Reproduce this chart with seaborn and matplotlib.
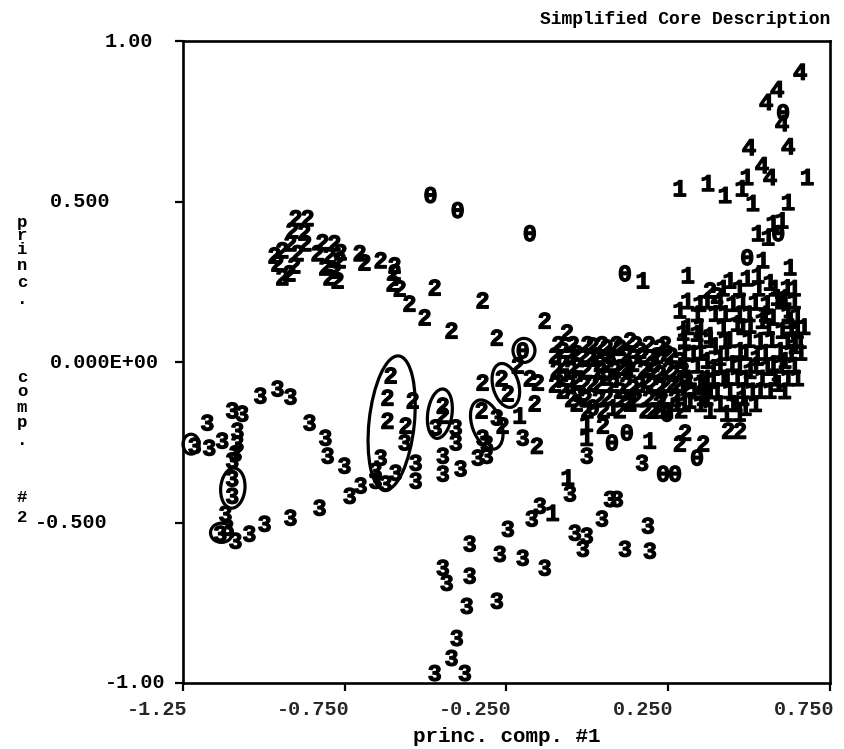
import matplotlib
matplotlib.use("Agg")
import matplotlib.pyplot as plt
import matplotlib.transforms as mtransforms
from matplotlib.patches import Ellipse
import pandas as pd
import seaborn as sns

# ---------------------------------------------------------------------------
# Principal-component scores, one list pair per simplified core class
# ---------------------------------------------------------------------------
class0_x = [0.605, 0.590, 0.494, 0.116, -0.485, -0.401, -0.178, -0.200, 0.076,
            0.122, 0.234, 0.271, 0.339, 0.017, 0.246]
class0_y = [0.778, 0.401, 0.326, 0.276, 0.520, 0.473, 0.401, 0.036, -0.251,
            -0.220, -0.348, -0.348, -0.298, -0.142, -0.161]

class1_x = [0.286, 0.373, 0.426, 0.478, 0.494, 0.512, 0.621, 0.680,
            0.528, 0.559, 0.574, 0.602, 0.543, 0.627, 0.172, 0.311,
            0.441, 0.494, 0.528, 0.565,
            0.348, 0.286, 0.296, 0.339, 0.379, 0.395, 0.426, 0.450, 0.463,
            0.519, 0.556, 0.587, 0.611, 0.618, 0.649, 0.649, 0.503, 0.540,
            0.574, 0.602, 0.618, 0.658, 0.596, 0.574, 0.611, 0.525, 0.556,
            0.534, 0.565, 0.590, 0.481, 0.463, 0.447, 0.488, 0.450,
            0.079, 0.132, 0.327, 0.358, 0.358, 0.389, 0.370, 0.410, 0.389,
            0.432, 0.317, 0.370, 0.401, 0.481, 0.379, 0.277, 0.348, 0.348,
            0.395, 0.426, 0.472, 0.503, 0.534, 0.627, 0.642,
            -0.209, -0.002, -0.002, 0.193, -0.060, -0.107,
            # dense band of class-1 samples
            0.42, 0.47, 0.53, 0.58, 0.64,
            0.31, 0.37, 0.41, 0.48, 0.60, 0.64,
            0.34, 0.47, 0.50, 0.55, 0.62,
            0.31, 0.35, 0.42, 0.48, 0.56, 0.63, 0.67,
            0.30, 0.38, 0.44, 0.50, 0.57, 0.64,
            0.30, 0.35, 0.43, 0.49, 0.55, 0.63, 0.66,
            0.30, 0.34, 0.41, 0.47, 0.52, 0.60, 0.64,
            0.31, 0.37, 0.42, 0.49, 0.54, 0.58, 0.62, 0.65,
            0.33, 0.38, 0.44, 0.51, 0.61,
            0.30, 0.35, 0.41, 0.46, 0.52,
            0.43, 0.47]
class1_y = [0.541, 0.557, 0.520, 0.541, 0.576, 0.495, 0.498, 0.576,
            0.401, 0.388, 0.432, 0.441, 0.317, 0.295, 0.254, 0.270,
            0.254, 0.261, 0.270, 0.248,
            0.182, 0.161, 0.092, 0.089, 0.083, 0.151, 0.151, 0.182, 0.120,
            0.186, 0.182, 0.201, 0.201, 0.232, 0.145, 0.098, 0.114, 0.129,
            0.139, 0.098, 0.067, 0.067, 0.036, -0.005, 0.005, 0.014, -0.017,
            -0.089, -0.089, -0.067, -0.089, -0.048, -0.005, -0.142, -0.129,
            -0.142, -0.129, 0.027, -0.058, -0.111, -0.017, 0.005, 0.014, -0.058,
            -0.048, -0.120, -0.111, -0.089, -0.111, -0.151, -0.129, -0.067, 0.067,
            0.051, 0.067, 0.036, -0.027, 0.067, 0.129, 0.051,
            -0.167, -0.192, -0.236, -0.245, -0.360, -0.470,
            0.230, 0.230, 0.230, 0.230, 0.230,
            0.190, 0.190, 0.190, 0.190, 0.190, 0.190,
            0.150, 0.150, 0.150, 0.150, 0.150,
            0.110, 0.110, 0.110, 0.110, 0.110, 0.110, 0.110,
            0.070, 0.070, 0.070, 0.070, 0.070, 0.070,
            0.030, 0.030, 0.030, 0.030, 0.030, 0.030, 0.030,
            -0.010, -0.010, -0.010, -0.010, -0.010, -0.010, -0.010,
            -0.050, -0.050, -0.050, -0.050, -0.050, -0.050, -0.050, -0.050,
            -0.090, -0.090, -0.090, -0.090, -0.090,
            -0.130, -0.130, -0.130, -0.130, -0.130,
            -0.160, -0.160]

class2_x = [-0.902, -0.865, -0.912, -0.875, -0.918, -0.872, -0.943, -0.967,
            -0.896, -0.958, -0.906, -0.921, -0.943,
            -0.819, -0.782, -0.763, -0.834, -0.797, -0.766, -0.810, -0.779,
            -0.797, -0.772,
            -0.704, -0.689, -0.639, -0.596, -0.596, -0.602, -0.580, -0.472,
            -0.550, -0.503, -0.420, -0.324, -0.132, -0.280,
            -0.608, -0.618, -0.540, -0.618, -0.562, -0.447, -0.447,
            -0.215, -0.178, -0.153, -0.324, -0.265, -0.246, -0.327, -0.262,
            -0.163, -0.156, 0.048, 0.302, 0.286, 0.358, 0.435, 0.472, 0.379,
            0.401, -0.063,
            -0.076, -0.033, 0.008, 0.039, -0.076, -0.033, -0.076, -0.033,
            -0.076, -0.023, 0.017, 0.060, 0.101, 0.163, 0.101, 0.141, 0.193,
            0.224, 0.060, 0.101, 0.141, 0.184, 0.224, -0.033, 0.265, 0.286,
            0.060, 0.070, 0.122, 0.203, 0.246, 0.132, 0.224, 0.246, 0.203,
            0.308, 0.265, 0.224, 0.132, 0.017, 0.308,
            # dense band of class-2 samples
            -0.090, -0.045, 0.000, 0.045, 0.090, 0.150, 0.190, 0.240,
            -0.100, -0.055, -0.010, 0.030, 0.075, 0.120, 0.170, 0.215, 0.260,
            -0.095, -0.050, -0.005, 0.040, 0.085, 0.130, 0.175, 0.210, 0.250, 0.295,
            -0.100, -0.055, -0.010, 0.035, 0.080, 0.120, 0.160, 0.200, 0.240, 0.280,
            -0.050, -0.005, 0.035, 0.110, 0.150, 0.190, 0.230, 0.270,
            0.000, 0.050, 0.100, 0.180, 0.220, 0.290]
class2_y = [0.448, 0.448, 0.410, 0.404, 0.370, 0.370, 0.348, 0.332,
            0.339, 0.307, 0.301, 0.276, 0.264,
            0.373, 0.370, 0.342, 0.339, 0.332, 0.317, 0.295, 0.285,
            0.264, 0.254,
            0.339, 0.310, 0.317, 0.301, 0.279, 0.245, 0.229, 0.232,
            0.182, 0.139, 0.098, 0.192, 0.129, 0.076,
            -0.042, -0.111, -0.120, -0.183, -0.198, -0.136, -0.167,
            -0.011, -0.051, -0.064, -0.064, -0.051, -0.098, -0.151, -0.198,
            -0.129, -0.261, -0.198, -0.220, -0.254, -0.254, -0.214, -0.214, 0.223,
            0.207, 0.092,
            0.036, 0.027, 0.011, -0.005, -0.005, -0.011, -0.051, -0.058,
            -0.089, -0.098, -0.067, -0.048, 0.045, 0.036, -0.017, -0.005, 0.014,
            0.045, -0.111, -0.089, -0.080, -0.058, -0.036, -0.129, -0.036, 0.005,
            0.045, -0.005, -0.017, -0.005, 0.027, -0.120, -0.129, -0.151, -0.151,
            -0.080, -0.067, -0.080, 0.067, 0.051, -0.058,
            0.055, 0.055, 0.055, 0.055, 0.055, 0.055, 0.055, 0.055,
            0.020, 0.020, 0.020, 0.020, 0.020, 0.020, 0.020, 0.020, 0.020,
            -0.025, -0.025, -0.025, -0.025, -0.025, -0.025, -0.025, -0.025, -0.025, -0.025,
            -0.070, -0.070, -0.070, -0.070, -0.070, -0.070, -0.070, -0.070, -0.070, -0.070,
            -0.115, -0.115, -0.115, -0.115, -0.115, -0.115, -0.115, -0.115,
            -0.150, -0.150, -0.150, -0.150, -0.150, -0.150]

class3_x = [-1.011, -0.958, -0.918, -1.175, -1.098, -1.067, -1.129, -1.169,
            -1.214, -1.082, -1.082, -1.088, -1.098, -1.098, -1.098, -1.119,
            -1.113, -1.135, -1.088, -1.045, -0.998, -0.918, -0.828, -0.735,
            -0.701,
            -0.859, -0.810, -0.803, -0.751,
            -0.565, -0.639, -0.655, -0.655, -0.593, -0.624, -0.531, -0.531,
            -0.469, -0.407, -0.407, -0.447, -0.447, -0.392, -0.339, -0.280,
            -0.324, -0.311, -0.311, -0.200, -0.002, 0.169,
            -0.054, 0.070, 0.091, -0.147, -0.172, 0.045, -0.246, -0.039,
            -0.002, -0.014, 0.187, -0.364, -0.271, -0.200, -0.132, 0.116,
            0.193, -0.447, -0.435, -0.364, -0.373, -0.280, -0.404, -0.420,
            -0.472, -0.379]
class3_y = [-0.105, -0.083, -0.108, -0.189, -0.151, -0.161, -0.245, -0.267,
            -0.261, -0.214, -0.254, -0.285, -0.307, -0.363, -0.417, -0.473,
            -0.516, -0.535, -0.557, -0.535, -0.504, -0.485, -0.454, -0.417,
            -0.385,
            -0.189, -0.236, -0.292, -0.323,
            -0.251, -0.298, -0.339, -0.370, -0.345, -0.379, -0.314, -0.370,
            -0.204, -0.204, -0.251, -0.292, -0.348, -0.332, -0.298, -0.173,
            -0.236, -0.254, -0.292, -0.236, -0.292, -0.314,
            -0.410, -0.427, -0.427, -0.448, -0.488, -0.488, -0.520, -0.532,
            -0.541, -0.582, -0.510, -0.566, -0.598, -0.610, -0.641, -0.582,
            -0.588, -0.641, -0.688, -0.666, -0.760, -0.744, -0.860, -0.922,
            -0.969, -0.969]

class4_x = [0.658, 0.587, 0.553, 0.602, 0.500, 0.621, 0.540, 0.565]
class4_y = [0.904, 0.850, 0.810, 0.744, 0.669, 0.672, 0.613, 0.576]

class_codes = ["0", "1", "2", "3", "4"]

xtick_values = [-1.25, -0.75, -0.25, 0.25, 0.75]
xtick_labels = ["-1.25", "-0.750", "-0.250", "0.250", "0.750"]
ytick_values = [1.0, 0.5, 0.0, -0.5, -1.0]
ytick_labels = ["1.00", "0.500", "0.000E+00", "-0.500", "-1.00"]

# hand-drawn loops around selected samples: (centre x, centre y, width, height, angle)
loops = [
    (-0.605, -0.190, 0.140, 0.420, -6),
    (-0.456, -0.161, 0.075, 0.155, -8),
    (-0.252, -0.073, 0.080, 0.140, 15),
    (-0.311, -0.195, 0.090, 0.160, 20),
    (-0.196, 0.036, 0.068, 0.075, 0),
    (-1.096, -0.393, 0.075, 0.125, -5),
    (-1.131, -0.532, 0.068, 0.060, 0),
    (-1.225, -0.256, 0.050, 0.062, 0),
]

# ---------------------------------------------------------------------------
xs = [class0_x, class1_x, class2_x, class3_x, class4_x]
ys = [class0_y, class1_y, class2_y, class3_y, class4_y]
frames = []
for code, cx, cy in zip(class_codes, xs, ys):
    frames.append(pd.DataFrame({"pc1": cx, "pc2": cy, "code": code}))
scores = pd.concat(frames, ignore_index=True)

sns.set_theme(style="white")
mono = "Liberation Mono"
plt.rcParams["font.family"] = [mono, "DejaVu Sans Mono"]
plt.rcParams["font.weight"] = "bold"
plt.rcParams["mathtext.fontset"] = "custom"
plt.rcParams["mathtext.rm"] = "Liberation Mono:bold"
plt.rcParams["mathtext.it"] = "Liberation Mono:bold"

W, H = 845, 749
fig = plt.figure(figsize=(W / 100, H / 100), dpi=100)
fig.patch.set_facecolor("white")
ax = fig.add_axes([183 / W, 1 - 683 / H, (830 - 183) / W, (683 - 41) / H])
ax.set_facecolor("white")

digit_markers = {c: r"$\mathrm{%s}$" % c for c in class_codes}
sns.scatterplot(data=scores, x="pc1", y="pc2", style="code",
                markers=digit_markers, style_order=class_codes,
                color="black", edgecolor="black", linewidth=0.9,
                s=130, legend=False, ax=ax)

for cx, cy, w, h, ang in loops:
    ax.add_patch(Ellipse((cx, cy), w, h, angle=ang, fill=False,
                         edgecolor="black", linewidth=2.3, clip_on=False))

ax.set_xlim(-1.25, 0.75)
ax.set_ylim(-1.0, 1.0)

for side in ["left", "right", "top", "bottom"]:
    ax.spines[side].set_visible(True)
    ax.spines[side].set_color("black")
    ax.spines[side].set_linewidth(1.9)

ax.set_xticks(xtick_values)
ax.set_xticklabels(xtick_labels, fontsize=14.5, fontweight="bold")
ax.set_yticks(ytick_values)
ax.tick_params(axis="both", direction="out", length=6, width=1.6,
               color="black", bottom=True, left=True)
ax.tick_params(axis="x", pad=6)
ax.tick_params(axis="y", labelleft=False)

shift = mtransforms.ScaledTranslation(5 / 100, 0, fig.dpi_scale_trans)
for lab in ax.get_xticklabels():
    lab.set_horizontalalignment("right")
    lab.set_transform(lab.get_transform() + shift)

# value labels on the vertical axis, left-aligned as on the plotter output
ylab_x = [105, 50, 50, 35, 105]
ytrans = mtransforms.blended_transform_factory(fig.transFigure, ax.transData)
for v, t, px in zip(ytick_values, ytick_labels, ylab_x):
    ax.text(px / W, v, t, transform=ytrans, ha="left", va="center",
            fontsize=14.5, fontweight="bold", color="black", clip_on=False)

ax.set_xlabel("princ. comp. #1", fontsize=15, fontweight="bold",
              color="black", labelpad=6)
ax.set_ylabel("")

# axis title written one character per line down the left margin
ychars = list("princ.comp.#2")
yrows = [222, 236, 250, 265, 282, 300, 377, 392, 407, 422, 440, 497, 518]
for ch, row in zip(ychars, yrows):
    fig.text(22 / W, 1 - row / H, ch, ha="center", va="center",
             fontsize=12.5, fontweight="bold", color="black")

ax.set_title("Simplified Core Description", loc="right", fontsize=13,
             fontweight="bold", color="black", pad=12)

fig.savefig("out.png", dpi=100, facecolor="white")
